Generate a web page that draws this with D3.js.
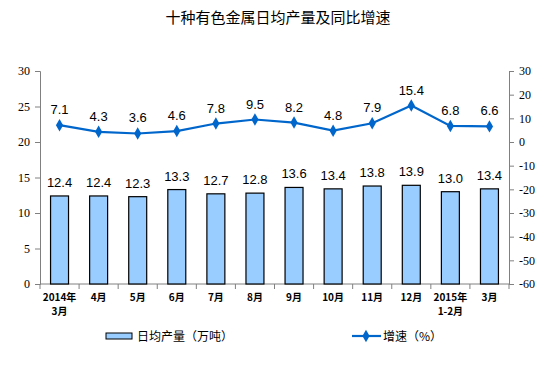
<!DOCTYPE html>
<html>
<head>
<meta charset="utf-8">
<script src="https://cdn.jsdelivr.net/npm/d3@7"></script>
<style>
  body { margin: 0; background: #fff; }
  svg { display: block; }
</style>
</head>
<body>
<div id="chart"></div>
<script>
`use strict`;

const months = [`2014年|3月`, `4月`, `5月`, `6月`, `7月`, `8月`, `9月`, `10月`, `11月`, `12月`, `2015年|1-2月`, `3月`];
const output = [12.4, 12.4, 12.3, 13.3, 12.7, 12.8, 13.6, 13.4, 13.8, 13.9, 13.0, 13.4];
const growth = [7.1, 4.3, 3.6, 4.6, 7.8, 9.5, 8.2, 4.8, 7.9, 15.4, 6.8, 6.6];
const leftTicks = [0, 5, 10, 15, 20, 25, 30];
const rightTicks = [-60, -50, -40, -30, -20, -10, 0, 10, 20, 30];

(function () {

  const W = 554, H = 372;
  const L = 40, R = 509, T = 71, B = 284;
  const cjk = `"SimSun", "Noto Sans CJK SC", sans-serif`;

  let svg = d3.select(`#chart`).append(`svg`)
    .attr(`width`, W)
    .attr(`height`, H);

  let x = d3.scaleBand().domain(months).range([L, R]).paddingInner(0.54).paddingOuter(0.27);
  let yL = d3.scaleLinear().domain([0, 30]).range([B, T]);
  let yR = d3.scaleLinear().domain([-60, 30]).range([B, T]);

  svg.append(`text`)
    .attr(`x`, 278).attr(`y`, 23)
    .attr(`text-anchor`, `middle`)
    .style(`font-family`, cjk)
    .style(`font-size`, `15px`)
    .style(`fill`, `#000`)
    .text(`十种有色金属日均产量及同比增速`);

  // axes
  let axL = svg.append(`g`).attr(`transform`, `translate(${L},0)`)
    .call(d3.axisLeft(yL).tickValues(leftTicks).tickSize(5).tickPadding(5).tickFormat(d => String(d)));
  let axR = svg.append(`g`).attr(`transform`, `translate(${R},0)`)
    .call(d3.axisRight(yR).tickValues(rightTicks).tickSize(5).tickPadding(5).tickFormat(d => String(d)));

  [axL, axR].forEach(g => {
    g.select(`.domain`).attr(`stroke`, `#808080`);
    g.selectAll(`.tick line`).attr(`stroke`, `#808080`);
    g.selectAll(`text`)
      .style(`font-family`, `"Liberation Serif", "Times New Roman", serif`)
      .style(`font-size`, `12px`)
      .attr(`fill`, `#000`);
  });

  // bottom axis line with boundary ticks
  let step = (R - L) / months.length;
  let xb = svg.append(`g`);
  xb.append(`line`)
    .attr(`x1`, L).attr(`x2`, R).attr(`y1`, B).attr(`y2`, B)
    .attr(`stroke`, `#808080`);
  xb.selectAll(`line.tk`).data(d3.range(months.length + 1))
    .enter().append(`line`)
    .attr(`class`, `tk`)
    .attr(`x1`, i => L + i * step).attr(`x2`, i => L + i * step)
    .attr(`y1`, B).attr(`y2`, B + 5)
    .attr(`stroke`, `#808080`);

  // bars
  svg.selectAll(`rect.bar`).data(output)
    .enter().append(`rect`)
    .attr(`class`, `bar`)
    .attr(`x`, (d, i) => x(months[i]))
    .attr(`y`, d => yL(d))
    .attr(`width`, x.bandwidth())
    .attr(`height`, d => B - yL(d))
    .attr(`fill`, `#99ccff`)
    .attr(`stroke`, `#000`)
    .attr(`stroke-width`, 1.2);

  svg.selectAll(`text.bv`).data(output)
    .enter().append(`text`)
    .attr(`class`, `bv`)
    .attr(`x`, (d, i) => x(months[i]) + x.bandwidth() / 2)
    .attr(`y`, d => yL(d) - 9)
    .attr(`text-anchor`, `middle`)
    .style(`font-family`, `"Liberation Sans", Arial, sans-serif`)
    .style(`font-size`, `13px`)
    .style(`fill`, `#000`)
    .text(d => d.toFixed(1));

  // growth line
  let cx = i => x(months[i]) + x.bandwidth() / 2;
  let line = d3.line()
    .x((d, i) => cx(i))
    .y(d => yR(d));

  svg.append(`path`)
    .datum(growth)
    .attr(`d`, line)
    .attr(`fill`, `none`)
    .attr(`stroke`, `#0066cc`)
    .attr(`stroke-width`, 2.2);

  let diamond = d3.symbol().type(d3.symbolDiamond).size(45);

  svg.selectAll(`path.pt`).data(growth)
    .enter().append(`path`)
    .attr(`class`, `pt`)
    .attr(`d`, diamond)
    .attr(`transform`, (d, i) => `translate(${cx(i)},${yR(d)})`)
    .attr(`fill`, `#0066cc`);

  svg.selectAll(`text.gv`).data(growth)
    .enter().append(`text`)
    .attr(`class`, `gv`)
    .attr(`x`, (d, i) => cx(i))
    .attr(`y`, d => yR(d) - 11)
    .attr(`text-anchor`, `middle`)
    .style(`font-family`, `"Liberation Sans", Arial, sans-serif`)
    .style(`font-size`, `13px`)
    .style(`fill`, `#000`)
    .text(d => d.toFixed(1));

  // x labels
  let xl = svg.selectAll(`text.xl`).data(months)
    .enter().append(`text`)
    .attr(`class`, `xl`)
    .attr(`text-anchor`, `middle`)
    .style(`font-family`, cjk)
    .style(`font-size`, `10px`)
    .style(`font-weight`, `bold`)
    .style(`fill`, `#000`);

  xl.each(function (d, i) {
    let parts = d.split(`|`);
    d3.select(this).selectAll(`tspan`).data(parts)
      .enter().append(`tspan`)
      .attr(`x`, cx(i))
      .attr(`y`, (p, j) => 301 + j * 14)
      .text(p => p);
  });

  // legend
  let lg = svg.append(`g`).style(`font-family`, cjk).style(`font-size`, `12px`);

  lg.append(`rect`)
    .attr(`x`, 106).attr(`y`, 333)
    .attr(`width`, 26).attr(`height`, 6)
    .attr(`fill`, `#99ccff`)
    .attr(`stroke`, `#000`)
    .attr(`stroke-width`, 1);

  lg.append(`text`)
    .attr(`x`, 137).attr(`y`, 341)
    .text(`日均产量（万吨）`);

  lg.append(`line`)
    .attr(`x1`, 352).attr(`x2`, 381).attr(`y1`, 336).attr(`y2`, 336)
    .attr(`stroke`, `#0066cc`)
    .attr(`stroke-width`, 2.2);

  lg.append(`path`)
    .attr(`d`, diamond)
    .attr(`transform`, `translate(366,336)`)
    .attr(`fill`, `#0066cc`);

  lg.append(`text`)
    .attr(`x`, 383).attr(`y`, 341)
    .text(`增速（%）`);

})();
</script>
</body>
</html>
